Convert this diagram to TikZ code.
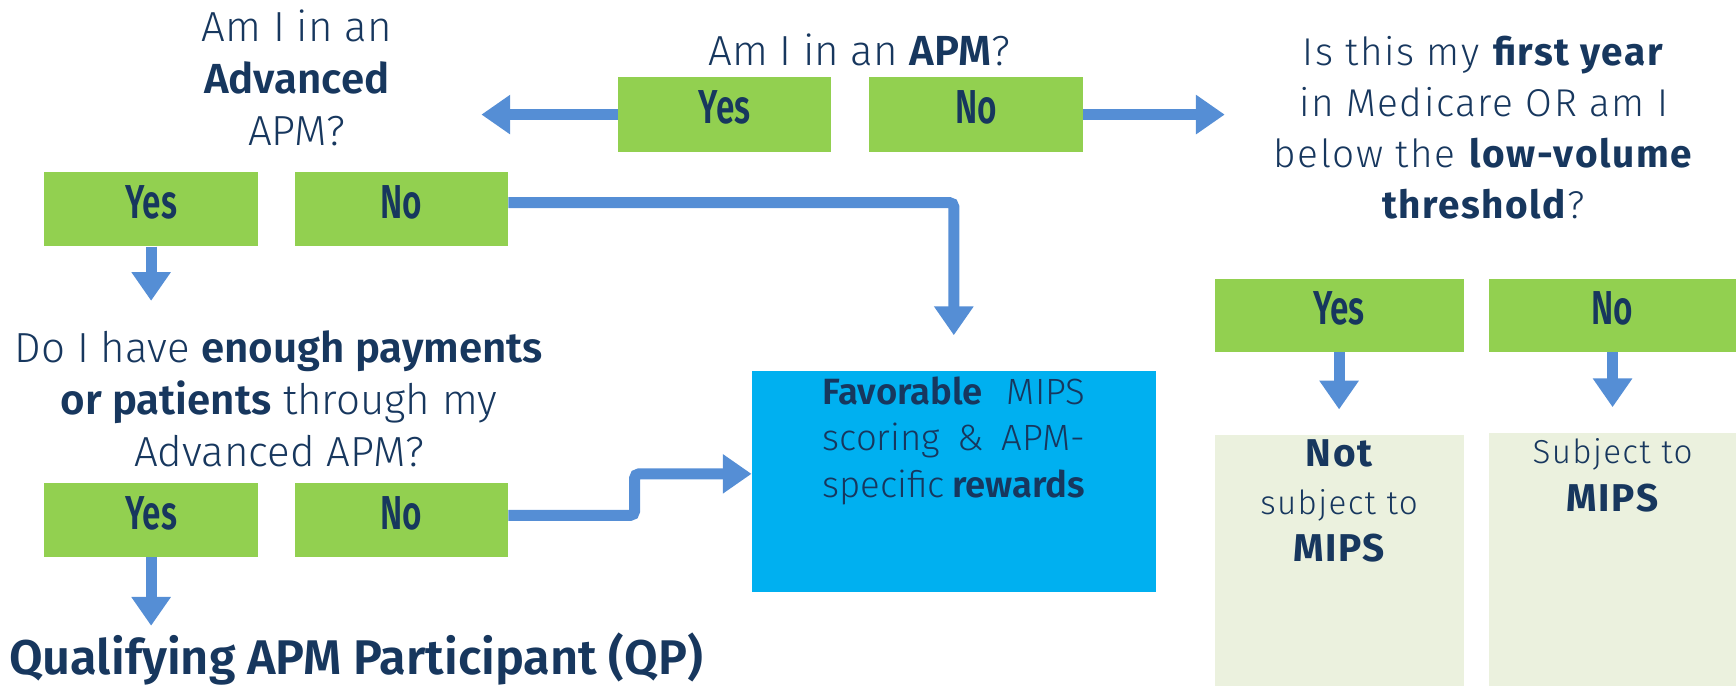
\documentclass[tikz,border=0pt]{standalone}
\usepackage{fontspec}
\setmainfont{Fira Sans Light}[BoldFont=Fira Sans SemiBold]
\newfontfamily\answerfont{Fira Sans SemiBold}[FakeStretch=0.7]
\newfontfamily\widefont{Fira Sans Light}[BoldFont=Fira Sans Bold, LetterSpace=4]
\usetikzlibrary{positioning, arrows.meta}

\definecolor{navy}{HTML}{17375E}
\definecolor{leaf}{HTML}{92D050}
\definecolor{arrowblue}{HTML}{558ED5}
\definecolor{skyblue}{HTML}{00B0F0}
\definecolor{pale}{HTML}{EBF1DE}

\newcommand{\bigword}[1]{{\fontsize{35}{43}\selectfont\bfseries #1}}

\tikzset{
    answer/.style={fill=leaf, minimum width=193pt, minimum height=67pt, inner sep=0pt,
        text=navy, text depth=13pt, font=\answerfont\fontsize{43}{46}\selectfont},
    question/.style={align=center, text=navy, inner sep=0pt,
        font=\fontsize{38}{47}\selectfont},
    outcome/.style={fill=pale, inner sep=0pt},
    outcometext/.style={align=center, text=navy, inner sep=0pt,
        font=\widefont\fontsize{30}{43}\selectfont},
    flow/.style={draw=arrowblue, line width=10pt,
        -{Triangle[width=34pt, length=26pt]}},
}

\begin{document}
\begin{tikzpicture}[x=1pt, y=-1pt]
    \useasboundingbox (0,0) rectangle (1568,620);

    % top question and its answers
    \node[question] (apmQ) at (776,45) {Am I in an \textbf{APM}?};
    \node[answer] (yesT) at (654.5,103.5) {Yes};
    \node[answer] (noT) at (881.5,103.5) {No};

    % left branch
    \node[question] (advQ) at (268,70) {Am I in an\\ \textbf{Advanced}\\ APM?};
    \node[answer] (yesA) at (136.5,189) {Yes};
    \node[answer] (noA) at (362.5,189) {No};

    \node[question] (enoughQ) at (252,360)
        {Do I have \textbf{enough payments}\\ \textbf{or patients} through my\\ Advanced APM?};
    \node[answer] (yesB) at (136.5,469.5) {Yes};
    \node[answer] (noB) at (362.5,469.5) {No};

    \node[anchor=base west, inner sep=0pt, text=navy,
        font=\fontsize{44}{48}\selectfont\bfseries] (qp) at (8,609)
        {Qualifying APM Participant (QP)};

    % favorable result
    \node[fill=skyblue, minimum width=365pt, minimum height=200pt, inner sep=0pt]
        (fav) at (861.5,435) {};
    \node[text width=237pt, align=left, text=navy, inner sep=0pt, anchor=north,
        font=\fontsize{33}{42}\selectfont] (favText) at (861.5,340)
        {\textbf{Favorable}\hfill MIPS\\ scoring\hfill \&\hfill APM-\\ specific\hfill \textbf{rewards}};

    % right branch
    \node[question, font=\widefont\fontsize{35}{46}\selectfont] (lowQ) at (1340,115)
        {Is this my \textbf{first year}\\ in Medicare OR am I\\ below the \textbf{low-volume}\\ \textbf{threshold}?};
    \node[answer, minimum width=225pt, minimum height=66pt] (yesC) at (1209.5,285) {Yes};
    \node[answer, minimum width=223pt, minimum height=66pt] (noC) at (1456.5,285) {No};

    \node[outcome, minimum width=225pt, minimum height=227pt] (notBox) at (1209.5,506.5) {};
    \node[outcome, minimum width=223pt, minimum height=229pt] (subBox) at (1456.5,505.5) {};
    \node[outcometext, anchor=north] (notText) at (1209.5,397)
        {\bigword{Not}\\ subject to\\ \bigword{MIPS}};
    \node[outcometext, anchor=north] (subText) at (1456.5,396)
        {Subject to\\ \bigword{MIPS}};

    % free arrow ends
    \coordinate[left=123pt of yesT.west] (advTip);
    \coordinate[right=128pt of noT.east] (lowTip);
    \coordinate[below=49pt of yesA.south] (enoughTip);
    \coordinate[below=62pt of yesB.south] (qpTip);

    % connectors
    \draw[flow] (yesT.west) -- (advTip);
    \draw[flow] (noT.east) -- (lowTip);
    \draw[flow] (yesA.south) -- (enoughTip);
    \draw[flow, rounded corners=4pt, shorten >=32pt] ([yshift=6pt]noA.east) -| (fav.north);
    \draw[flow, rounded corners=4pt] ([yshift=4pt]noB.east) -- ++(114,0) |- ([yshift=7pt]fav.west);
    \draw[flow] (yesB.south) -- (qpTip);
    \draw[flow, shorten >=23pt] (yesC.south) -- (notBox.north);
    \draw[flow, shorten >=23pt] (noC.south) -- (subBox.north);
\end{tikzpicture}
\end{document}
